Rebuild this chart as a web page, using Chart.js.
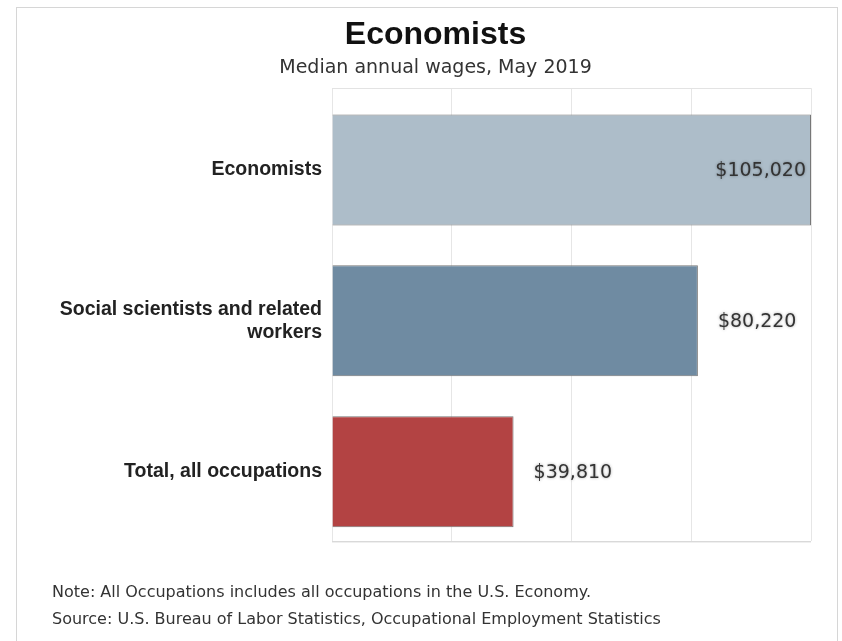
<!DOCTYPE html>
<html>
<head>
<meta charset="utf-8">
<title>Economists</title>
<script src="https://cdn.jsdelivr.net/npm/chart.js@4/dist/chart.umd.min.js"></script>
<style>
  html, body { margin: 0; padding: 0; background: #fff; }
  body { width: 842px; height: 641px; position: relative; overflow: hidden; }
  .frame { position: absolute; left: 16px; top: 7px; width: 820px; height: 660px; border: 1px solid #d6d6d6; }
  #wageChart { position: absolute; left: 0; top: 0; }
  .note { position: absolute; left: 52px; font: 16px/20px 'DejaVu Sans', Verdana, sans-serif; color: #333; white-space: nowrap; }
</style>
</head>
<body>
<div class="frame"></div>
<canvas id="wageChart" width="842" height="641"></canvas>
<div class="note" style="top: 582px">Note: All Occupations includes all occupations in the U.S. Economy.</div>
<div class="note" style="top: 609px">Source: U.S. Bureau of Labor Statistics, Occupational Employment Statistics</div>
<script>
const occupations = ['Economists', ['Social scientists and related', 'workers'], 'Total, all occupations'];
const medianWages = [105020, 80220, 39810];
const barColors = ['#adbdc9', '#6f8ba2', '#b34343'];

const wageMax = Math.max(...medianWages);

// light box around the plot area (top and bottom edges; grid gives the sides)
const plotFrame = {
  id: 'plotFrame',
  beforeDatasetsDraw(chart) {
    const { ctx, chartArea: a } = chart;
    ctx.save();
    ctx.lineWidth = 1;
    ctx.strokeStyle = '#e3e3e3';
    ctx.beginPath();
    ctx.moveTo(a.left, Math.round(a.top) + 0.5);
    ctx.lineTo(a.right, Math.round(a.top) + 0.5);
    ctx.stroke();
    ctx.strokeStyle = '#d9d9d9';
    ctx.beginPath();
    ctx.moveTo(a.left, Math.round(a.bottom) + 0.5);
    ctx.lineTo(a.right, Math.round(a.bottom) + 0.5);
    ctx.stroke();
    ctx.strokeStyle = '#efefef';
    ctx.beginPath();
    ctx.moveTo(a.left, Math.round(a.bottom) + 1.5);
    ctx.lineTo(a.right, Math.round(a.bottom) + 1.5);
    ctx.stroke();
    ctx.restore();
  }
};

// dollar labels next to each bar, tucked inside when there is no room
const valueLabels = {
  id: 'valueLabels',
  afterDatasetsDraw(chart) {
    const { ctx, chartArea } = chart;
    const meta = chart.getDatasetMeta(0);
    ctx.save();
    ctx.font = '19px "DejaVu Sans", Verdana, sans-serif';
    ctx.textBaseline = 'middle';
    ctx.fillStyle = '#333';
    ctx.shadowColor = 'rgba(0, 0, 0, 0.35)';
    ctx.shadowBlur = 3;
    meta.data.forEach((bar, i) => {
      const text = '$' + medianWages[i].toLocaleString('en-US');
      const w = ctx.measureText(text).width;
      if (bar.x + 20 + w <= chartArea.right) {
        ctx.textAlign = 'left';
        ctx.fillText(text, bar.x + 20, bar.y + 1);
      } else {
        ctx.textAlign = 'right';
        ctx.fillText(text, bar.x - 5, bar.y + 1);
      }
    });
    ctx.restore();
  }
};

new Chart(document.getElementById('wageChart'), {
  type: 'bar',
  data: {
    datasets: [{
      data: medianWages.map((v, i) => ({ x: v, y: i })),
      backgroundColor: barColors,
      borderColor: '#777',
      borderWidth: 1,
      categoryPercentage: 1,
      barPercentage: 0.736
    }]
  },
  options: {
    indexAxis: 'y',
    responsive: false,
    animation: false,
    layout: { padding: { left: 60, right: 31, top: 0, bottom: 100 } },
    plugins: {
      legend: { display: false },
      tooltip: { enabled: false },
      title: {
        display: true,
        text: 'Economists',
        color: '#111',
        font: { family: "'Liberation Sans', Arial, sans-serif", size: 32, weight: 'bold', lineHeight: 1.2 },
        padding: { top: 16, bottom: 0 }
      },
      subtitle: {
        display: true,
        text: 'Median annual wages, May 2019',
        color: '#333',
        font: { family: "'DejaVu Sans', Verdana, sans-serif", size: 19, lineHeight: 1.2 },
        padding: { top: 2, bottom: 9 }
      }
    },
    scales: {
      x: {
        type: 'linear',
        min: 0,
        max: wageMax,
        grid: { color: '#e6e6e6', drawTicks: false },
        border: { display: false },
        ticks: { display: false },
        afterBuildTicks: (scale) => {
          scale.ticks = [0, 1, 2, 3, 4].map(k => ({ value: wageMax * k / 4 }));
        }
      },
      y: {
        type: 'linear',
        reverse: true,
        offset: false,
        bounds: 'data',
        min: -0.543,
        max: 2.46,
        grid: { display: false, drawTicks: false },
        border: { display: false },
        ticks: {
          padding: 10,
          color: '#222',
          font: { family: "'Liberation Sans', Arial, sans-serif", size: 19.5, weight: 'bold', lineHeight: 1.2 },
          callback: (value) => occupations[value]
        },
        afterBuildTicks: (scale) => {
          scale.ticks = occupations.map((_, i) => ({ value: i }));
        },
        afterFit: (scale) => {
          scale.width = 272;
        }
      }
    }
  },
  plugins: [plotFrame, valueLabels]
});
</script>
</body>
</html>
